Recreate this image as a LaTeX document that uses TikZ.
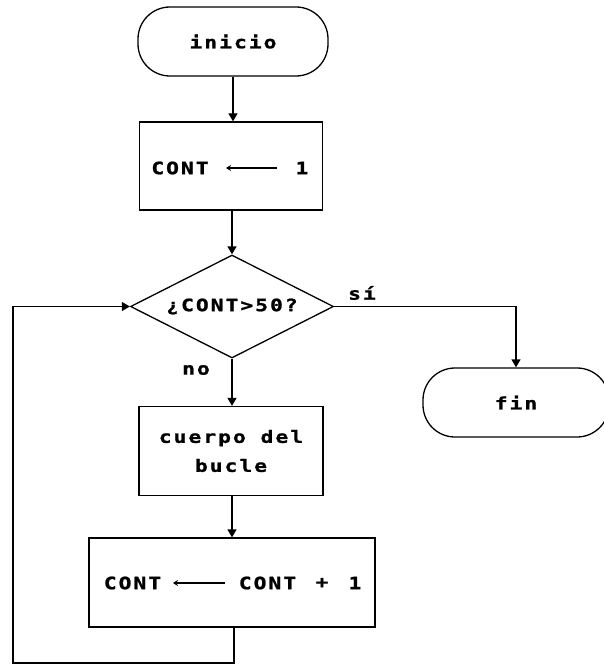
\documentclass[tikz,border=0pt]{standalone}
\usepackage{fontspec}
\newfontfamily\pix{DejaVu Sans Mono}[LetterSpace=12, FakeStretch=1.25, FakeBold=1.2]
\usetikzlibrary{arrows.meta,shapes.geometric}
\begin{document}
\begin{tikzpicture}[x=1pt,y=-1pt,
  every node/.style={font=\pix\bfseries\fontsize{17}{29}\selectfont, text=black},
  term/.style={draw, line width=1.3pt, rounded corners=32pt, minimum width=190pt, minimum height=69pt, inner sep=0pt},
  proc/.style={draw, line width=1.3pt, rectangle, inner sep=0pt},
  dec/.style={draw, line width=1.3pt, diamond, aspect=2, minimum width=203pt, minimum height=103pt, inner sep=0pt},
  txt/.style={inner sep=0pt},
  conn/.style={-{Triangle[width=9pt,length=8pt]}, line width=1.3pt},
  asg/.style={-{Stealth[width=6pt,length=5pt]}, line width=1.2pt}]
\useasboundingbox (0,0) rectangle (603,666);

% nodes
\node[term] (inicio) at (233,41.5) {inicio};
\node[proc, minimum width=183pt, minimum height=88pt] (asig1) at (231,166) {};
\node[dec] (cond) at (232,306.5) {¿CONT>50?};
\node[term, minimum width=186pt] (fin) at (516,402.5) {fin};
\node[proc, minimum width=184pt, minimum height=89pt, align=center] (cuerpo) at (231,451) {cuerpo del\\bucle};
\node[proc, minimum width=286pt, minimum height=89pt] (incr) at (232,582.5) {};

% texts of the assignment boxes
\node[txt] (c1) at (180,168) {CONT};
\node[txt] (one) at (302,168) {1};
\coordinate (a1s) at (277,168);
\coordinate (a1e) at (226,168);
\draw[asg] (a1s) -- (a1e);

\node[txt] (c2) at (132.5,583) {CONT};
\node[txt] (c3) at (267.5,583) {CONT};
\node[txt] (plus) at (322,583) {+};
\node[txt] (one2) at (355,583) {1};
\coordinate (a2s) at (225,583);
\coordinate (a2e) at (173,583);
\draw[asg] (a2s) -- (a2e);

% labels
\node[txt] (si) at (362,293) {sí};
\node[txt] (no) at (196,370) {no};

% connectors
\draw[conn] (inicio.south) -- (inicio.south |- asig1.north);
\draw[conn] (asig1.south -| cond.north) -- (cond.north);
\draw[conn] (cond.east) -| (fin.north);
\draw[conn] (cond.south) -- (cond.south |- cuerpo.north);
\draw[conn] (cuerpo.south -| cond.south) -- (cond.south |- incr.north);
\coordinate (lb) at (13,663);
\coordinate (bb) at (234,663);
\draw[conn] (incr.south -| bb) -- (bb) -- (lb) |- (cond.west);
\end{tikzpicture}
\end{document}
